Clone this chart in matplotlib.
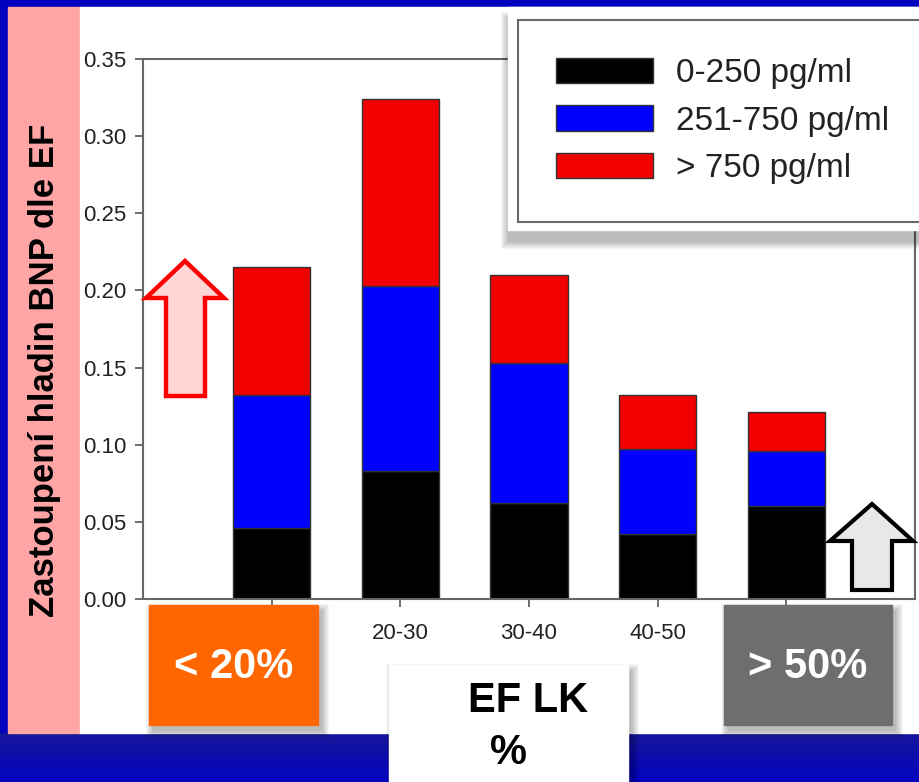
import numpy as np
import matplotlib
matplotlib.use("Agg")
import matplotlib.pyplot as plt
from matplotlib.patches import Rectangle, Polygon

plt.rcParams['font.family'] = ['Liberation Sans', 'DejaVu Sans']

# data
kategorie = ["10-20", "20-30", "30-40", "40-50", "50-60"]
bnp_nizke = [0.046, 0.083, 0.062, 0.042, 0.060]      # 0-250 pg/ml
bnp_stredni = [0.086, 0.120, 0.091, 0.055, 0.036]    # 251-750 pg/ml
bnp_vysoke = [0.083, 0.121, 0.057, 0.035, 0.025]     # > 750 pg/ml
legenda = ["0-250 pg/ml", "251-750 pg/ml", "> 750 pg/ml"]
barvy = ["#000000", "#0000FF", "#F20000"]

W, H = 920, 782
fig = plt.figure(figsize=(W / 100, H / 100), dpi=100, facecolor="#0202BF")

# background layer in pixel coordinates
bg = fig.add_axes([0, 0, 1, 1], zorder=0)
bg.set_xlim(0, W)
bg.set_ylim(H, 0)
bg.axis("off")
grad = np.linspace(0, 1, 50).reshape(-1, 1)
bg.imshow(grad, extent=[0, W, H, 733], aspect="auto", zorder=0,
          cmap=matplotlib.colors.LinearSegmentedColormap.from_list(
              "g", ["#16169A", "#0404C2"]))
bg.add_patch(Rectangle((8, 7), 72, 726, color="#FFA5A5", zorder=1))
bg.add_patch(Rectangle((80, 7), W - 80, 726, color="white", zorder=1))
bg.text(45, 370, "Zastoupení hladin BNP dle EF", rotation=90, ha="center",
        va="center", fontsize=25, fontweight="bold", color="black", zorder=2)

# main chart
ax = fig.add_axes([143 / W, 1 - 599 / H, 772 / W, 540 / H], zorder=1)
x = np.arange(1, len(kategorie) + 1)
dole = np.zeros(len(kategorie))
for hodnoty, barva, popis in zip([bnp_nizke, bnp_stredni, bnp_vysoke],
                                 barvy, legenda):
    ax.bar(x, hodnoty, width=0.6, bottom=dole, color=barva,
           edgecolor="#333333", linewidth=1, label=popis)
    dole = dole + np.array(hodnoty)

ax.set_xlim(0, 6)
ax.set_ylim(0, 0.35)
ax.set_yticks(np.arange(0, 0.351, 0.05))
ax.set_yticklabels(["%.2f" % v for v in np.arange(0, 0.351, 0.05)])
ax.set_xticks(x)
ax.set_xticklabels(kategorie)
ax.tick_params(axis="both", direction="out", length=6, width=1.2,
               color="#555555", labelsize=16, labelcolor="#222222", pad=6)
ax.tick_params(axis="x", pad=11)
for s in ax.spines.values():
    s.set_color("#666666")
    s.set_linewidth(1.5)


# overlay layer in pixel coordinates
top = fig.add_axes([0, 0, 1, 1], zorder=2)
top.set_xlim(0, W)
top.set_ylim(H, 0)
top.axis("off")
top.patch.set_alpha(0)


def stin(x0, y0, w, h, dx=4, dy=6):
    for i in range(8):
        top.add_patch(Rectangle((x0 + dx - i, y0 + dy - i), w + 2 * i,
                                h + 2 * i, color="black", alpha=0.035,
                                linewidth=0, zorder=1))


# white area behind legend
stin(508, 7, 430, 223, dx=0, dy=12)
top.add_patch(Rectangle((508, 7), 430, 223, color="white", zorder=2))

# arrows
top.add_patch(Polygon([(166, 396), (205, 396), (205, 298), (224, 298),
                       (185, 261), (146, 298), (166, 298)], closed=True,
                      facecolor="#FFD6D6", edgecolor="#FF0000",
                      linewidth=3.2, zorder=3))
top.add_patch(Polygon([(852, 590), (892, 590), (892, 541), (913, 541),
                       (872, 504), (830, 541), (852, 541)], closed=True,
                      facecolor="#E8E8E8", edgecolor="black",
                      linewidth=3, zorder=3))

# boxes
stin(149, 605, 169, 120)
top.add_patch(Rectangle((149, 605), 169, 120, color="#FF6600", zorder=3))
top.text(234, 667, "< 20%", ha="center", va="center", fontsize=30,
         fontweight="bold", color="white", zorder=4)

stin(724, 605, 168, 120)
top.add_patch(Rectangle((724, 605), 168, 120, color="#6E6E6E", zorder=3))
top.text(808, 667, "> 50%", ha="center", va="center", fontsize=30,
         fontweight="bold", color="white", zorder=4)

stin(389, 665, 239, 130)
top.add_patch(Rectangle((389, 665), 239, 130, color="white", zorder=3))
top.text(528, 701, "EF LK", ha="center", va="center", fontsize=30,
         fontweight="bold", color="black", zorder=4)
top.text(509, 753, "%", ha="center", va="center", fontsize=30,
         fontweight="bold", color="black", zorder=4)

# legend
handles, labels = ax.get_legend_handles_labels()
leg = fig.legend(handles, labels, loc="upper left",
                 bbox_to_anchor=(518 / W, 0, 440 / W, 1 - 20 / H),
                 mode="expand", fontsize=24, frameon=True, fancybox=False,
                 edgecolor="#444444", handlelength=2.9, handleheight=0.78,
                 handletextpad=0.7, labelspacing=0.48, borderpad=1.15,
                 borderaxespad=0)
leg.get_frame().set_linewidth(1.5)
for t in leg.get_texts():
    t.set_color("#222222")

plt.savefig("out.png", dpi=100, facecolor=fig.get_facecolor())
